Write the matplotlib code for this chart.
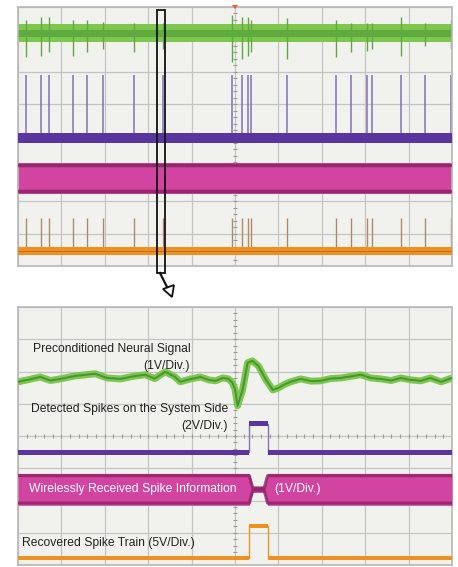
import matplotlib.pyplot as plt
import numpy as np
from matplotlib.patches import Rectangle, Polygon

# ---- data (in scope divisions: x 0..10, y 0..8) ----
# top panel: spike positions seen on all channels
spike_x = [0.18, 0.53, 0.72, 1.27, 1.59, 1.96, 2.68, 3.33, 4.92, 5.17, 5.29, 5.36,
           6.19, 7.32, 7.67, 8.04, 8.15, 8.82, 9.38, 9.98]
green_spike_hi = [7.6, 7.7, 7.7, 7.6, 7.6, 7.55, 7.5, 7.5, 7.75, 7.7, 7.7, 7.6,
                  7.65, 7.6, 7.5, 7.5, 7.5, 7.7, 7.5, 7.6]
green_spike_lo = [6.45, 6.5, 6.6, 6.5, 6.6, 6.7, 6.6, 6.7, 6.3, 6.4, 6.5, 6.6,
                  6.4, 6.45, 6.6, 6.65, 6.7, 6.5, 6.8, 6.7]
green_top_band = (6.93, 7.46)
purple_top_band = (3.8, 4.12)
purple_spike_top = 5.9
magenta_top_band = (2.23, 3.19)
orange_top_band = (0.35, 0.58)
orange_spike_top = 1.49

# bottom panel: zoomed single spike
neural_x = [0, 0.25, 0.51, 0.75, 0.97, 1.3, 1.78, 2.05, 2.36, 2.65, 2.93, 3.15, 3.39,
            3.6, 3.74, 3.95, 4.2, 4.4, 4.55, 4.72, 4.85, 4.94, 5.0, 5.06, 5.12, 5.17,
            5.29, 5.4, 5.54, 5.7, 5.87, 6.0, 6.14, 6.28, 6.51, 6.75, 6.97, 7.2, 7.44,
            7.67, 7.9, 8.13, 8.36, 8.6, 8.82, 9.05, 9.28, 9.5, 9.75, 10.0]
neural_y = [5.68, 5.75, 5.83, 5.72, 5.77, 5.86, 5.93, 5.8, 5.77, 5.85, 5.9, 5.78, 5.99,
            5.85, 5.68, 5.76, 5.83, 5.74, 5.71, 5.8, 5.77, 5.65, 5.45, 4.94, 5.2, 5.4,
            6.27, 6.33, 6.17, 5.77, 5.43, 5.49, 5.6, 5.68, 5.77, 5.7, 5.71, 5.78, 5.8,
            5.85, 5.9, 5.8, 5.77, 5.72, 5.8, 5.74, 5.71, 5.8, 5.68, 5.8]
pulse_start, pulse_end = 5.33, 5.75
purple_low, purple_high = 3.49, 4.38
magenta_band = (1.85, 2.84)
magenta_gap = (2.25, 2.45)
orange_low, orange_high = 0.22, 1.2

labels = ["Preconditioned Neural Signal", "(1V/Div.)",
          "Detected Spikes on the System Side", "(2V/Div.)",
          "Wirelessly Received Spike Information", "(1V/Div.)",
          "Recovered Spike Train (5V/Div.)"]

W, H = 458, 567
GREEN, DKGREEN = '#7cc74c', '#3f8a32'
PURPLE, LTPURPLE = '#5a35a0', '#8270b8'
MAGENTA, DKMAGENTA = '#d1449f', '#86205f'
ORANGE = '#f0901e'

fig = plt.figure(figsize=(W / 100, H / 100), dpi=100)
fig.patch.set_facecolor('white')


def panel(top, bottom):
    ax = fig.add_axes([18 / W, 1 - bottom / H, (452 - 18) / W, (bottom - top) / H])
    ax.set_xlim(0, 10)
    ax.set_ylim(0, 8)
    ax.set_facecolor('#f1f2ee')
    ax.set_xticks(range(11))
    ax.set_yticks(range(9))
    ax.grid(True, color='#c4c4c4', lw=0.9)
    ax.set_axisbelow(True)
    ax.tick_params(length=0, labelbottom=False, labelleft=False)
    for s in ax.spines.values():
        s.set_color('#b8b8b8')
        s.set_linewidth(1.2)
    # minor ticks on centre lines
    tx = np.arange(0.2, 10, 0.2)
    ty = np.arange(0.2, 8, 0.2)
    ax.plot(np.full(len(ty), 5.0), ty, ls='none', marker='_', ms=3,
            color='#9a9a9a', mew=0.8, zorder=1)
    ax.plot(tx, np.full(len(tx), 4.0), ls='none', marker='|', ms=3,
            color='#9a9a9a', mew=0.8, zorder=1)
    return ax


# ---------------- top panel ----------------
ax1 = panel(7, 266)
ax1.fill_between([0, 10], *green_top_band, color=GREEN, lw=0, zorder=2)
ax1.fill_between([0, 10], 7.08, 7.3, color=DKGREEN, alpha=0.45, lw=0, zorder=2)
ax1.vlines(spike_x, green_spike_lo, green_spike_hi, color='#5fa845', lw=1.0, zorder=2)

ax1.vlines(spike_x, purple_top_band[1], purple_spike_top, color=LTPURPLE, lw=1.1, zorder=2)
ax1.fill_between([0, 10], *purple_top_band, color=PURPLE, lw=0, zorder=3)

ax1.fill_between([0, 10], *magenta_top_band, color=MAGENTA, lw=0, zorder=2)
ax1.plot([0, 10], [magenta_top_band[1] - 0.08] * 2, color=DKMAGENTA, lw=2.5, alpha=0.8, zorder=3)
ax1.plot([0, 10], [magenta_top_band[0] + 0.08] * 2, color=DKMAGENTA, lw=2.5, alpha=0.8, zorder=3)

ax1.vlines(spike_x, orange_top_band[1], orange_spike_top, color='#b08868', lw=1.0, zorder=2)
ax1.fill_between([0, 10], *orange_top_band, color=ORANGE, lw=0, zorder=3)
ax1.plot([0, 10], [0.47, 0.47], color='#b0602a', lw=0.8, alpha=0.7, zorder=3)

# ---------------- bottom panel ----------------
ax2 = panel(307, 565)
ax2.plot(neural_x, neural_y, color=GREEN, lw=5, solid_capstyle='butt', zorder=3)
ax2.plot(neural_x, neural_y, color=DKGREEN, lw=1.4, alpha=0.85, zorder=3)

px = [0, pulse_start, pulse_start, pulse_end, pulse_end, 10]
ax2.plot(px, [purple_low, purple_low, purple_high, purple_high, purple_low, purple_low],
         color=LTPURPLE, lw=1.0, zorder=3)
ax2.fill_between([0, pulse_start], purple_low - 0.09, purple_low + 0.09, color=PURPLE, lw=0, zorder=3)
ax2.fill_between([pulse_end, 10], purple_low - 0.09, purple_low + 0.09, color=PURPLE, lw=0, zorder=3)
ax2.fill_between([pulse_start, pulse_end], purple_high - 0.08, purple_high + 0.08, color=PURPLE, lw=0, zorder=3)

mx = [0, pulse_start, pulse_start + 0.08, pulse_end - 0.08, pulse_end, 10]
mtop = [magenta_band[1], magenta_band[1], magenta_gap[1], magenta_gap[1], magenta_band[1], magenta_band[1]]
mbot = [magenta_band[0], magenta_band[0], magenta_gap[0], magenta_gap[0], magenta_band[0], magenta_band[0]]
ax2.fill_between(mx, mbot, mtop, color=MAGENTA, lw=0, zorder=3)
ax2.plot(mx, [t - 0.07 for t in mtop], color=DKMAGENTA, lw=2.2, alpha=0.75, zorder=3)
ax2.plot(mx, [b + 0.07 for b in mbot], color=DKMAGENTA, lw=2.2, alpha=0.75, zorder=3)

ax2.plot(px, [orange_low, orange_low, orange_high, orange_high, orange_low, orange_low],
         color=ORANGE, lw=1.0, zorder=3)
ax2.fill_between([0, pulse_start], orange_low - 0.06, orange_low + 0.06, color=ORANGE, lw=0, zorder=3)
ax2.fill_between([pulse_end, 10], orange_low - 0.06, orange_low + 0.06, color=ORANGE, lw=0, zorder=3)
ax2.fill_between([pulse_start, pulse_end], orange_high - 0.06, orange_high + 0.06, color=ORANGE, lw=0, zorder=3)

fnt = dict(family=['Liberation Sans', 'DejaVu Sans'], fontsize=8.7, va='center', zorder=5)
ax2.text(0.35, 6.71, labels[0], color='#222222', ha='left', **fnt)
ax2.text(3.96, 6.18, labels[1], color='#222222', ha='right', **fnt)
ax2.text(0.30, 4.84, labels[2], color='#222222', ha='left', **fnt)
ax2.text(4.84, 4.31, labels[3], color='#222222', ha='right', **fnt)
ax2.text(0.25, 2.36, labels[4], color='white', ha='left', **fnt)
ax2.text(5.9, 2.36, labels[5], color='white', ha='left', **fnt)
ax2.text(0.09, 0.68, labels[6], color='#222222', ha='left', **fnt)

# ---------------- overlay: zoom box and arrow ----------------
ov = fig.add_axes([0, 0, 1, 1], zorder=10)
ov.set_xlim(0, W)
ov.set_ylim(H, 0)
ov.axis('off')
ov.add_patch(Rectangle((157, 10), 8, 263, fill=False, ec='#111111', lw=1.3))
ov.plot([160, 167], [273, 287], color='#111111', lw=1.6)
ov.add_patch(Polygon([(163, 289), (174, 285), (172, 297)], closed=True,
                     fc='white', ec='#111111', lw=1.3))
ov.add_patch(Polygon([(232, 5), (238, 5), (235, 9)], closed=True, fc='#f05a28', ec='none'))

fig.savefig('out.png', dpi=100)
